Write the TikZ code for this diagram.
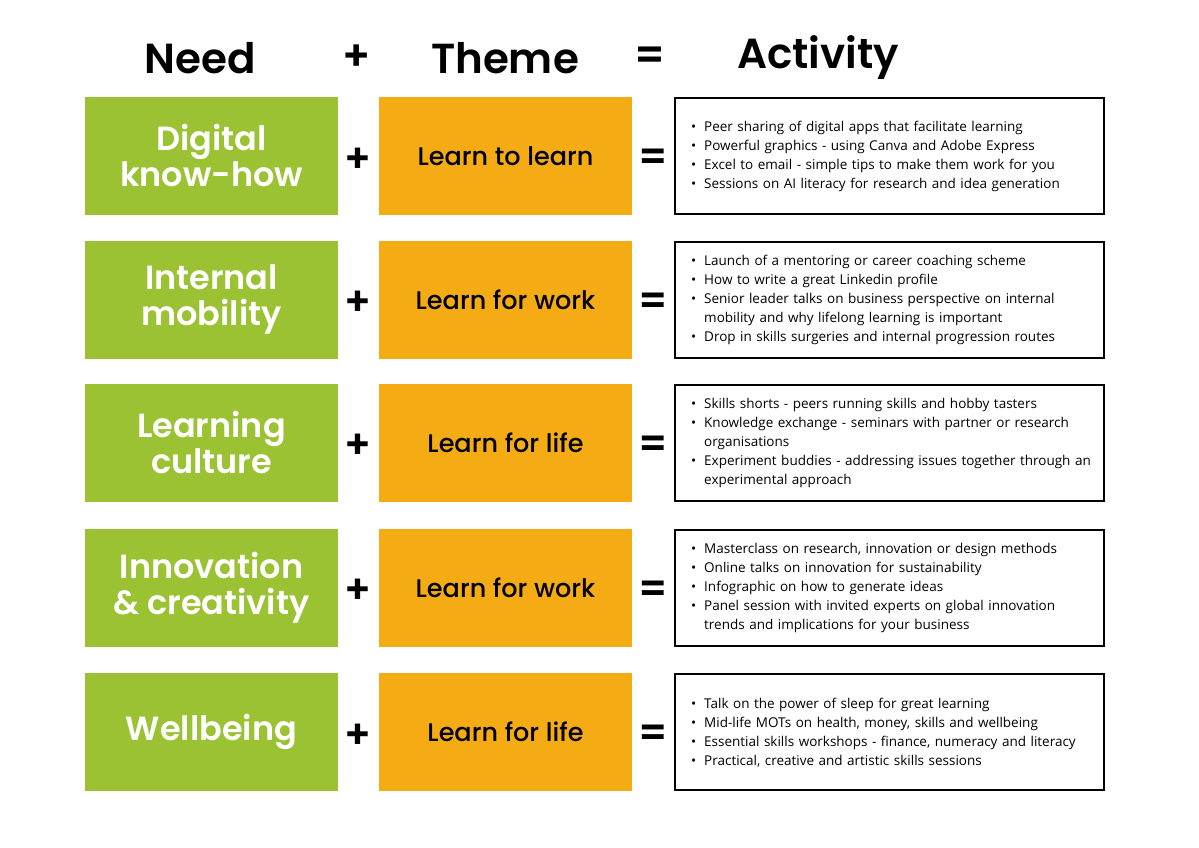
\documentclass[tikz,border=0pt]{standalone}
\usepackage{fontspec}
\setmainfont{Open Sans}
\newfontfamily\hfont{Poppins SemiBold}
\newfontfamily\tfont{Poppins Medium}
\definecolor{gr}{HTML}{9BC232}
\definecolor{og}{HTML}{F5AB14}
\begin{document}
\begin{tikzpicture}[x=1pt,y=-1pt,
  needbox/.style={fill=gr,minimum width=253pt,minimum height=118pt,inner sep=0pt,text=white,font=\hfont\fontsize{33.5}{36}\selectfont,align=center},
  themebox/.style={fill=og,minimum width=253pt,minimum height=118pt,inner sep=0pt,font=\tfont\fontsize{25.5}{28}\selectfont},
  actbox/.style={draw=black,line width=2pt,minimum width=429pt,minimum height=116pt,inner sep=0pt},
  sym/.style={font=\hfont\fontsize{40}{40}\selectfont},
  hdr/.style={font=\hfont\fontsize{42}{44}\selectfont},
  acttext/.style={anchor=west,font=\fontsize{13.5}{19}\selectfont,text width=420pt,inner sep=0pt}]
\useasboundingbox (0,0) rectangle (1199,848);
\node[hdr] (h1) at (200,58) {Need};
\node[hdr] (h2) at (357,58) {+};
\node[hdr] (h3) at (505,58) {Theme};
\node[hdr] (h4) at (650,58) {=};
\node[hdr] (h5) at (818,58) {Activity};
\newcommand{\bl}[1]{\par\noindent\hangindent=15pt\hangafter=1\makebox[15pt][l]{\hspace{2pt}\textbullet}#1}
\newcommand{\row}[5]{%
  \node[needbox] (n#1) at (211.5,#2) {#3};
  \node[themebox] (t#1) at (505.5,#2) {#4};
  \node[actbox] (a#1) at (889,#2) {};
  \node[sym] (p#1) at (358,#2+4) {+};
  \node[sym] (e#1) at (653,#2+4) {=};
  \node[acttext] (x#1) at (689,#2-4) {\raggedright #5\par};
}
\row{1}{156}{Digital\\know-how}{Learn to learn}{\bl{Peer sharing of digital apps that facilitate learning} \bl{Powerful graphics - using Canva and Adobe Express} \bl{Excel to email - simple tips to make them work for you} \bl{Sessions on AI literacy for research and idea generation}}
\row{2}{299.5}{Internal\\mobility}{Learn for work}{\bl{Launch of a mentoring or career coaching scheme} \bl{How to write a great Linkedin profile} \bl{Senior leader talks on business perspective on internal\newline mobility and why lifelong learning is important} \bl{Drop in skills surgeries and internal progression routes}}
\row{3}{442.5}{Learning\\culture}{Learn for life}{\bl{Skills shorts - peers running skills and hobby tasters} \bl{Knowledge exchange - seminars with partner or research\newline organisations} \bl{Experiment buddies - addressing issues together through an\newline experimental approach}}
\row{4}{587.5}{Innovation\\\& creativity}{Learn for work}{\bl{Masterclass on research, innovation or design methods} \bl{Online talks on innovation for sustainability} \bl{Infographic on how to generate ideas} \bl{Panel session with invited experts on global innovation\newline trends and implications for your business}}
\row{5}{732}{Wellbeing}{Learn for life}{\bl{Talk on the power of sleep for great learning} \bl{Mid-life MOTs on health, money, skills and wellbeing} \bl{Essential skills workshops - finance, numeracy and literacy} \bl{Practical, creative and artistic skills sessions}}
\end{tikzpicture}
\end{document}
